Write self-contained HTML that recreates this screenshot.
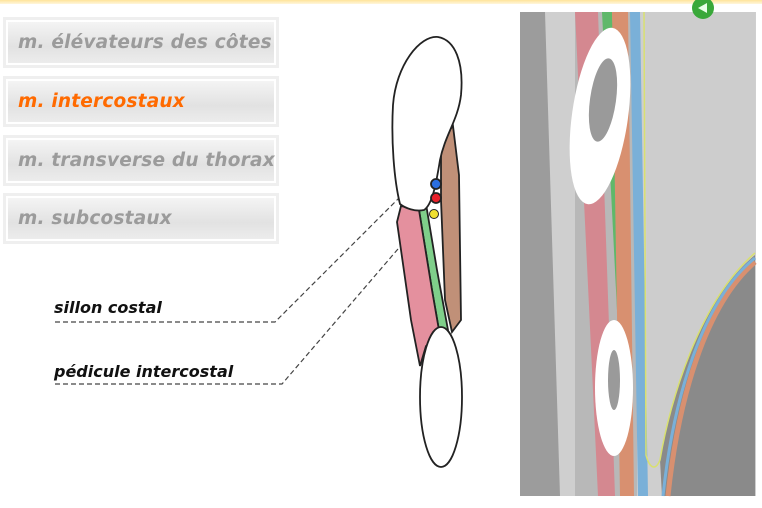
<!DOCTYPE html>
<html><head><meta charset="utf-8"><style>
body{margin:0;width:762px;height:508px;overflow:hidden;background:#fff;font-family:"DejaVu Sans","Liberation Sans",sans-serif;position:relative}
.top{position:absolute;left:0;top:0;width:762px;height:4px;background:linear-gradient(#ffe49a,#fff6dc)}
.btn{position:absolute;left:3px;width:276px;height:51px;border:3px solid #efefef;box-sizing:border-box;background:#fff;padding:2px}
.btn div{height:100%;background:linear-gradient(#f4f4f4,#e2e2e2 60%,#ececec);font-weight:bold;font-style:italic;font-size:18.5px;color:#9b9b9b;line-height:41px;padding-left:10px;box-sizing:border-box;white-space:nowrap;letter-spacing:0.2px}
.lbl{position:absolute;left:54px;font-weight:bold;font-style:italic;font-size:16px;color:#111;white-space:nowrap}
svg{position:absolute;left:0;top:0}
</style></head><body>
<div class="top"></div>
<div class="btn" style="top:17px"><div>m. élévateurs des côtes</div></div>
<div class="btn" style="top:76px"><div style="color:#ff6a00">m. intercostaux</div></div>
<div class="btn" style="top:135px"><div>m. transverse du thorax</div></div>
<div class="btn" style="top:193px"><div>m. subcostaux</div></div>
<div class="lbl" style="top:298px">sillon costal</div>
<div class="lbl" style="top:362px">pédicule intercostal</div>
<svg width="762" height="508">
<g stroke="#444" stroke-dasharray="5,3" fill="none" stroke-width="1.2">
<polyline points="55,322 275,322 425,172"/>
<polyline points="55,384 282,384 416,228"/>
</g>
<g stroke="#222" stroke-width="1.8">
<path d="M441,140 L453,126 L459,175 L461,320 L452,332 L445,300 L441,200 Z" fill="#c09078"/>
<path d="M419,210 L426,204 L437,270 L448,330 L440,336 L432,290 Z" fill="#7fcf8a"/>
<path d="M401,206 L419,210 L432,290 L440,336 L426,346 L420,366 L411,320 L397,222 Z" fill="#e4909e"/>
<path d="M438,37 C455,40 464,62 461,95 C458,120 445,135 440,160 C436,185 432,205 424,210 C415,212 405,208 400,204 C394,180 391,140 393,105 C396,65 420,35 438,37 Z" fill="#fff"/>
<ellipse cx="441" cy="397" rx="21" ry="70" fill="#fff"/>
<circle cx="436" cy="184" r="5" fill="#2a6ee0"/>
<circle cx="436" cy="198" r="5" fill="#e8202a"/>
<circle cx="434" cy="214" r="4.5" fill="#f0e030" stroke-width="1"/>
</g>
<g>
<rect x="520" y="12" width="236" height="484" fill="#cfcfcf"/>
<path d="M520,12 L545,12 L560,496 L520,496 Z" fill="#9c9c9c"/>
<rect x="575" y="12" width="62" height="484" fill="#b8b8b8"/>
<path d="M575,12 L598,12 L615,496 L598,496 Z" fill="#d48890"/>
<path d="M602,12 L612,12 L625,320 L618,330 Z" fill="#5fb86a"/>
<path d="M612,12 L628,12 L634,496 L620,496 Z" fill="#d89070"/>
<path d="M630,12 L640,12 L648,496 L638,496 Z" fill="#7ab0d8"/>
<path d="M644,12 L755,12 L755,255 C700,300 670,400 660,460 C655,470 650,470 648,460 L645,12 Z" fill="#cdcdcd"/>
<path d="M755,255 C700,300 670,400 660,460 L662,496 L755,496 Z" fill="#8a8a8a"/>
<path d="M755,262 C705,305 678,400 668,496" stroke="#d89070" stroke-width="5" fill="none"/>
<path d="M755,258 C702,300 673,400 663,496" stroke="#7ab0d8" stroke-width="3" fill="none"/>
<path d="M644,12 L646,455 C650,470 656,470 660,460 C670,400 700,300 755,253" stroke="#d8e070" stroke-width="1.5" fill="none"/>
<ellipse cx="600" cy="116" rx="28" ry="89" fill="#fff" transform="rotate(8 600 116)"/>
<ellipse cx="603" cy="100" rx="13" ry="42" fill="#9a9a9a" transform="rotate(8 603 100)"/>
<ellipse cx="614" cy="388" rx="19" ry="68" fill="#fff"/>
<ellipse cx="614" cy="380" rx="6" ry="30" fill="#9a9a9a"/>
</g>
<circle cx="703" cy="8" r="11" fill="#3aa83a"/>
<path d="M698,8 L707,3 L707,13 Z" fill="#e8ffe8"/>
</svg>
</body></html>
